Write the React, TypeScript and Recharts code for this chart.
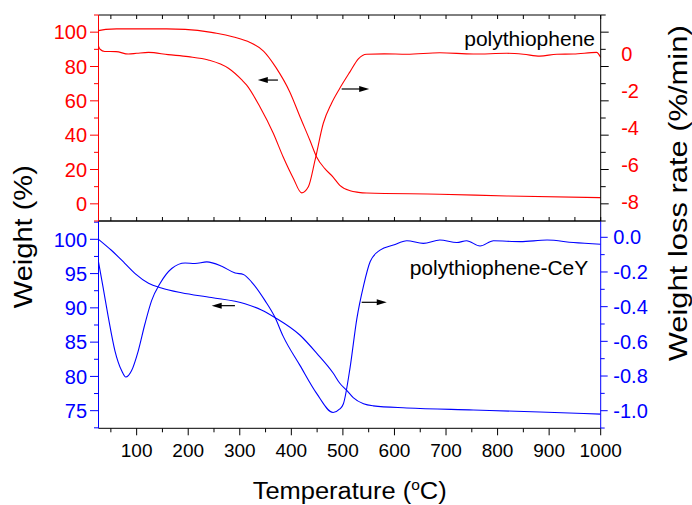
import React from 'react'
import { LineChart, Line, XAxis, YAxis, ReferenceLine } from 'recharts'

// polythiophene (top panel)
const ptWeightT = [26, 40, 61, 158, 194, 245, 255, 288, 320, 346, 370, 397, 417, 436, 449, 465, 481, 494, 514, 530, 546, 688, 818, 1000]
const ptWeight = [100.9, 101.6, 101.9, 101.9, 101.6, 99.9, 99.4, 97.2, 94.0, 89.0, 79.5, 65.2, 50.6, 37, 27.3, 20.5, 15.6, 10.8, 7.6, 6.7, 6.3, 5.6, 4.6, 3.6]
const ptRateT = [26, 29, 38, 60, 84, 100, 123, 161, 200, 239, 278, 304, 313, 339, 365, 384, 404, 420, 433, 446, 462, 478, 494, 514, 530, 546, 580, 624, 688, 753, 818, 850, 882, 915, 947, 992, 1000]
const ptRate = [0.39, 0.22, 0.1, 0.09, -0.04, 0, 0.05, -0.07, -0.18, -0.36, -0.81, -1.44, -1.71, -2.89, -4.32, -5.59, -6.76, -7.54, -7.21, -5.77, -3.78, -2.7, -1.89, -0.99, -0.3, -0.05, -0.03, -0.05, 0.03, -0.04, 0, -0.05, -0.15, -0.05, -0.04, 0.05, -0.22]

// polythiophene-CeY (bottom panel)
const ceyWeightT = [26, 51, 77, 97, 123, 148, 187, 245, 310, 342, 368, 417, 449, 481, 494, 507, 520, 540, 559, 624, 753, 882, 1000]
const ceyWeight = [100, 98.4, 96.5, 95.0, 93.6, 92.9, 92.2, 91.5, 90.6, 89.7, 88.6, 86.0, 83.4, 80.5, 79.0, 78.0, 76.9, 76.0, 75.7, 75.4, 75.1, 74.8, 74.5]
const ceyRateT = [26, 35, 45, 58, 71, 79, 90, 103, 116, 129, 145, 168, 194, 213, 236, 265, 291, 307, 323, 349, 368, 384, 417, 449, 481, 494, 501, 514, 527, 540, 553, 572, 598, 624, 656, 688, 721, 740, 766, 792, 844, 896, 947, 1000]
const ceyRate = [-0.142, -0.29, -0.46, -0.656, -0.77, -0.806, -0.77, -0.656, -0.5, -0.365, -0.268, -0.18, -0.148, -0.151, -0.142, -0.167, -0.206, -0.214, -0.258, -0.365, -0.46, -0.57, -0.74, -0.9, -1.01, -0.99, -0.96, -0.75, -0.47, -0.28, -0.14, -0.074, -0.045, -0.02, -0.035, -0.016, -0.03, -0.02, -0.05, -0.02, -0.025, -0.016, -0.03, -0.04]

// axes
const xDomain = [26, 1000]
const topWDomain = [-10, 110]
const topRDomain = [-9.06, 2.07]
const botWDomain = [72.43, 102.67]
const botRDomain = [-1.1015, 0.094]
const xTicks = [50, 100, 150, 200, 250, 300, 350, 400, 450, 500, 550, 600, 650, 700, 750, 800, 850, 900, 950, 1000]
const topLeftTicks = [-10, 0, 10, 20, 30, 40, 50, 60, 70, 80, 90, 100, 110]
const topRightLabels = [0, -2, -4, -6, -8]
const botLeftTicks = [72.5, 75, 77.5, 80, 82.5, 85, 87.5, 90, 92.5, 95, 97.5, 100, 102.5]
const botRightTicks = [-1.1, -1.0, -0.9, -0.8, -0.7, -0.6, -0.5, -0.4, -0.3, -0.2, -0.1, 0]

// the top right axis carries the left axis' tick marks (mirrored), but its own labels
const toRight = (w: number) =>
  topRDomain[0] + ((w - topWDomain[0]) / (topWDomain[1] - topWDomain[0])) * (topRDomain[1] - topRDomain[0])
const topRightMarks = topLeftTicks.map(toRight)

const zip = (t: number[], v: number[]) => t.map((x, i) => ({ t: x, v: v[i] }))
const isMult = (v: number, m: number) => Math.abs(v / m - Math.round(v / m)) < 1e-6

const FONT = '"Liberation Sans", Arial, sans-serif'
const RED = '#ff0000'
const BLUE = '#0000ff'

type TickOpts = {
  side: 'left' | 'right' | 'top' | 'bottom'
  color: string
  lineColor?: string
  len: (v: number) => number
  label?: (v: number) => string | null
  gap?: number
  fontSize?: number
}

const makeTick = (o: TickOpts) => (props: any) => {
  const { x, y, payload } = props
  const v = Number(payload.value)
  const len = o.len(v)
  const text = o.label ? o.label(v) : null
  const lc = o.lineColor ?? o.color
  const fs = o.fontSize ?? 20
  const gap = o.gap ?? 0
  let line = null
  let txt = null
  if (o.side === 'left') {
    if (len) line = <line x1={x - len} x2={x} y1={y} y2={y} stroke={lc} />
    if (text != null) txt = <text x={x - gap} y={y} dy="0.36em" textAnchor="end" fill={o.color} fontSize={fs} fontFamily={FONT}>{text}</text>
  } else if (o.side === 'right') {
    if (len) line = <line x1={x} x2={x + len} y1={y} y2={y} stroke={lc} />
    if (text != null) txt = <text x={x + gap} y={y} dy="0.36em" textAnchor="start" fill={o.color} fontSize={fs} fontFamily={FONT}>{text}</text>
  } else if (o.side === 'bottom') {
    if (len) line = <line x1={x} x2={x} y1={y} y2={y + len} stroke={lc} />
    if (text != null) txt = <text x={x} y={y + gap} textAnchor="middle" fill={o.color} fontSize={fs} fontFamily={FONT}>{text}</text>
  } else {
    if (len) line = <line x1={x} x2={x} y1={y} y2={y + len} stroke={lc} />
  }
  return <g>{line}{txt}</g>
}

const Arrow = (p: any) => {
  const { x1, y1, x2, y2 } = p
  const dir = Math.sign(x2 - x1)
  return (
    <g>
      <line x1={x1} y1={y1} x2={x2 - dir * 6} y2={y2} stroke="#000" strokeWidth={1.2} />
      <polygon points={`${x2},${y2} ${x2 - dir * 10},${y2 - 3} ${x2 - dir * 10},${y2 + 3}`} fill="#000" />
    </g>
  )
}

const topInTick = makeTick({ side: 'top', color: '#000', len: () => 4 })
const divTick = (props: any) => {
  const { x, y } = props
  return <line x1={x} x2={x} y1={y} y2={y - 4} stroke="#000" />
}
const xTick = makeTick({
  side: 'bottom', color: '#000', len: (v) => (isMult(v, 100) ? 7 : 4),
  label: (v) => (isMult(v, 100) ? String(v) : null), gap: 28.4, fontSize: 19,
})
const topLeftTick = makeTick({
  side: 'left', color: RED, len: (v) => (isMult(v, 20) ? 8.5 : 4.5),
  label: (v) => (isMult(v, 20) && v >= 0 && v <= 100 ? String(v) : null), gap: 11.4,
})
const topRightTick = makeTick({
  side: 'right', color: RED, lineColor: '#000',
  len: (v) => {
    const i = topRightMarks.findIndex((m) => Math.abs(m - v) < 1e-6)
    if (i < 0) return 0
    return isMult(topLeftTicks[i], 20) ? 8 : 5
  },
  label: (v) => (topRightLabels.some((l) => Math.abs(l - v) < 1e-9) ? String(v) : null), gap: 20.5,
})
const botLeftTick = makeTick({
  side: 'left', color: BLUE, len: (v) => (isMult(v, 5) ? 8.5 : 4.5),
  label: (v) => (isMult(v, 5) ? String(v) : null), gap: 11.4,
})
const botRightTick = makeTick({
  side: 'right', color: BLUE, len: (v) => (isMult(v, 0.2) ? 7 : 4),
  label: (v) => (isMult(v, 0.2) ? v.toFixed(1) : null), gap: 12.6,
})

export default function App() {
  const lineProps = { type: 'monotone' as const, dataKey: 'v', dot: false, strokeWidth: 1.1, isAnimationActive: false }
  const axisCommon = { type: 'number' as const, allowDataOverflow: true, tickSize: 0, tickMargin: 0, tickLine: false, interval: 0 as const }
  return (
    <div style={{ position: 'absolute', left: 0, top: 0, width: 692, height: 505, background: '#fff', overflow: 'hidden' }}>
      <div style={{ position: 'absolute', left: 0, top: 210 }}>
        <LineChart width={692} height={295} margin={{ top: 10, right: 31.3, bottom: 46.7, left: 38.5 }}>
          <XAxis xAxisId="b" dataKey="t" domain={xDomain} ticks={xTicks} tick={xTick} stroke="#000" height={30} {...axisCommon} />
          <XAxis xAxisId="bt" dataKey="t" orientation="top" domain={xDomain} ticks={xTicks} tick={false} stroke="#000" height={1} {...axisCommon} />
          <YAxis yAxisId="w" orientation="left" width={60} domain={botWDomain} ticks={botLeftTicks} tick={botLeftTick} stroke={BLUE} {...axisCommon} />
          <YAxis yAxisId="r" orientation="right" width={60} domain={botRDomain} ticks={botRightTicks} tick={botRightTick} stroke={BLUE} {...axisCommon} />
          <Line xAxisId="bt" yAxisId="w" data={zip(ceyWeightT, ceyWeight)} stroke={BLUE} {...lineProps} />
          <Line xAxisId="b" yAxisId="r" data={zip(ceyRateT, ceyRate)} stroke={BLUE} {...lineProps} />
          <ReferenceLine xAxisId="b" yAxisId="w" segment={[{ x: 290.6, y: 90.32 }, { x: 245.5, y: 90.32 }]} shape={Arrow} ifOverflow="visible" />
          <ReferenceLine xAxisId="b" yAxisId="w" segment={[{ x: 536.4, y: 90.81 }, { x: 585, y: 90.81 }]} shape={Arrow} ifOverflow="visible" />
        </LineChart>
      </div>
      <div style={{ position: 'absolute', left: 0, top: 0 }}>
        <LineChart width={692} height={226} margin={{ top: 14, right: 90.3, bottom: 4, left: 38.5 }}>
          <XAxis xAxisId="b" dataKey="t" domain={xDomain} ticks={xTicks} tick={divTick} stroke="#000" height={1} {...axisCommon} />
          <XAxis xAxisId="tp" dataKey="t" orientation="top" domain={xDomain} ticks={xTicks} tick={topInTick} stroke="#000" height={1} {...axisCommon} />
          <YAxis yAxisId="w" orientation="left" width={60} domain={topWDomain} ticks={topLeftTicks} tick={topLeftTick} stroke={RED} {...axisCommon} />
          <YAxis yAxisId="r" orientation="right" width={1} domain={topRDomain} ticks={[...topRightMarks, ...topRightLabels]} tick={topRightTick} stroke="#000" {...axisCommon} />
          <Line xAxisId="tp" yAxisId="w" data={zip(ptWeightT, ptWeight)} stroke={RED} {...lineProps} />
          <Line xAxisId="b" yAxisId="r" data={zip(ptRateT, ptRate)} stroke={RED} {...lineProps} />
          <ReferenceLine xAxisId="b" yAxisId="w" segment={[{ x: 374, y: 72.1 }, { x: 335, y: 72.1 }]} shape={Arrow} ifOverflow="visible" />
          <ReferenceLine xAxisId="b" yAxisId="w" segment={[{ x: 497.6, y: 66.9 }, { x: 551, y: 66.9 }]} shape={Arrow} ifOverflow="visible" />
        </LineChart>
      </div>
      <svg width={692} height={505} style={{ position: 'absolute', left: 0, top: 0, pointerEvents: 'none' }} fontFamily={FONT}>
        <text x={595} y={45.7} textAnchor="end" fontSize={21} fill="#000">polythiophene</text>
        <text x={588.3} y={275} textAnchor="end" fontSize={21} fill="#000">polythiophene-CeY</text>
        <text x={252.7} y={499.3} fontSize={23} fill="#000" textLength={194} lengthAdjust="spacingAndGlyphs">
          Temperature (<tspan fontSize={14} dy={-9}>o</tspan><tspan dy={9}>C)</tspan>
        </text>
        <text transform="translate(32,236.7) rotate(-90)" textAnchor="middle" fontSize={26} fill="#000"
          textLength={143} lengthAdjust="spacingAndGlyphs">Weight (%)</text>
        <text transform="translate(686.5,193.3) rotate(-90)" textAnchor="middle" fontSize={25} fill="#000"
          textLength={336} lengthAdjust="spacingAndGlyphs">Weight loss rate (%/min)</text>
      </svg>
    </div>
  )
}
